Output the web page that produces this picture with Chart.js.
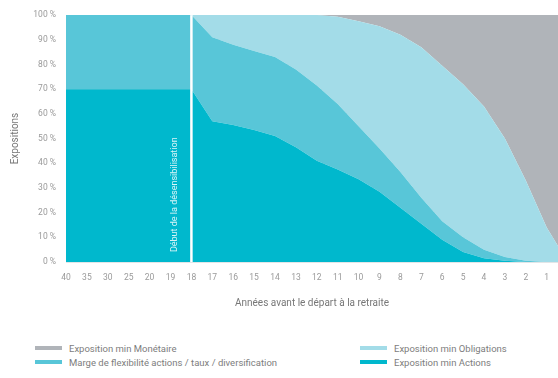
<!DOCTYPE html>
<html>
<head>
<meta charset="utf-8">
<script src="https://cdn.jsdelivr.net/npm/chart.js@4.4.0/dist/chart.umd.min.js"></script>
<style>
  html, body { margin: 0; padding: 0; background: #fff; overflow: hidden; }
  #wrap { position: relative; width: 558px; height: 378px; font-family: Roboto, sans-serif; }
  #chart { position: absolute; left: 0; top: 0; }
  .leg { position: absolute; display: flex; align-items: center; font-size: 9.5px; color: #7d7d7d; white-space: nowrap; height: 12px; }
  .leg i { display: inline-block; width: 27px; height: 4px; margin-right: 7px; }
</style>
</head>
<body>
<div id="wrap">
  <canvas id="chart" width="558" height="320"></canvas>
  <div id="legend"></div>
</div>
<script>
/* years before retirement (last one sits just past the visible edge) */
const yearLabels = ['40', '35', '30', '25', '20', '19', '18', '17', '16', '15', '14', '13',
                    '12', '11', '10', '9', '8', '7', '6', '5', '4', '3', '2', '1', '0'];

/* upper edge of each band, in % */
const actionsMin   = [70, 70, 70, 70, 70, 70, 70, 57, 55.5, 53.5, 51, 46.5,
                      41, 37.5, 33.5, 28.5, 22, 15.5, 9, 4, 1.5, 0.5, 0, 0, 0];
const margeTop     = [100, 100, 100, 100, 100, 100, 100, 91, 88, 85.5, 83, 78,
                      71.5, 64, 55, 46, 36.5, 26, 16.5, 10, 5, 2, 0.5, 0, 0];
const obligTop     = [100, 100, 100, 100, 100, 100, 100, 100, 100, 100, 100, 100,
                      100, 99.3, 97.5, 95.5, 92, 87, 79.5, 72, 63, 50, 33, 14, 0];
const monetaireTop = [100, 100, 100, 100, 100, 100, 100, 100, 100, 100, 100, 100,
                      100, 100, 100, 100, 100, 100, 100, 100, 100, 100, 100, 100, 100];

const yTicks = [0, 10, 20, 30, 40, 50, 60, 70, 80, 90, 100];
const startLabel = '18';

const toPoints = arr => arr.map((v, i) => ({ x: i, y: v }));
const band = (label, data, color, fill) => ({
  label, data: toPoints(data), backgroundColor: color, borderWidth: 0,
  pointRadius: 0, fill, tension: 0
});

const datasets = [
  band('Exposition min Actions', actionsMin, '#00B8CD', 'origin'),
  band('Marge de flexibilité actions / taux  / diversification', margeTop, '#58C6D8', '-1'),
  band('Exposition min Obligations', obligTop, '#A3DCE8', '-1'),
  band('Exposition min Monétaire', monetaireTop, '#B0B4B9', '-1')
];

const desensibilisation = {
  id: 'desensibilisation',
  afterDraw(chart){
    const { ctx, chartArea, scales: { x, y } } = chart;
    const px = x.getPixelForValue(yearLabels.indexOf(startLabel));
    ctx.save();
    ctx.strokeStyle = '#ffffff';
    ctx.lineWidth = 2.5;
    ctx.beginPath();
    ctx.moveTo(px, chartArea.top);
    ctx.lineTo(px, chartArea.bottom);
    ctx.stroke();
    ctx.translate(px - 16.5, y.getPixelForValue(4));
    ctx.rotate(-Math.PI / 2);
    ctx.fillStyle = 'rgba(255,255,255,0.85)';
    ctx.font = '9px Roboto';
    ctx.textAlign = 'left';
    ctx.textBaseline = 'middle';
    ctx.fillText('Début de la désensibilisation', 0, 0);
    ctx.restore();
  }
};

const chart = new Chart(document.getElementById('chart'), {
  type: 'line',
  data: { datasets },
  plugins: [desensibilisation],
  options: {
    responsive: false,
    animation: false,
    devicePixelRatio: 1,
    layout: { padding: { top: 9, right: 0, left: 0, bottom: 0 } },
    plugins: { legend: { display: false }, tooltip: { enabled: false } },
    scales: {
      x: {
        type: 'linear',
        min: 0,
        max: 23.54,
        grid: { display: false },
        border: { color: '#e2e5e7' },
        ticks: {
          stepSize: 1, autoSkip: false, maxRotation: 0, includeBounds: false,
          padding: 3, color: '#9a9a9a', font: { family: 'Roboto', size: 8.5 },
          callback: v => yearLabels[v]
        },
        title: {
          display: true, text: 'Années avant le départ à la retraite',
          color: '#777', font: { family: 'Roboto', size: 10 },
          padding: { top: 0, bottom: 11 }
        },
        afterFit: s => { s.height = 58; }
      },
      y: {
        min: 0,
        max: 100,
        z: 1,
        afterBuildTicks: s => { s.ticks = yTicks.map(v => ({ value: v })); },
        grid: { color: 'rgba(0,0,0,0.11)', drawTicks: false },
        border: { display: false },
        ticks: {
          padding: 10, color: '#999', font: { family: 'Roboto', size: 8.5 },
          callback: v => v + ' %'
        },
        title: {
          display: true, text: 'Expositions',
          color: '#777', font: { family: 'Roboto', size: 10 },
          padding: { top: 9, bottom: 0 }
        },
        afterFit: s => { s.width = 66; }
      }
    }
  }
});

/* two-column legend under the chart */
const legendOrder = [[3, 2], [1, 0]];
const legendCols = [35, 360];
const legendRows = [342, 356];
const legendEl = document.getElementById('legend');
legendOrder.forEach((row, r) => row.forEach((di, c) => {
  const ds = chart.data.datasets[di];
  const item = document.createElement('div');
  item.className = 'leg';
  item.style.left = legendCols[c] + 'px';
  item.style.top = legendRows[r] + 'px';
  item.innerHTML = '<i style="background:' + ds.backgroundColor + '"></i>' + ds.label;
  legendEl.appendChild(item);
}));
</script>
</body>
</html>
